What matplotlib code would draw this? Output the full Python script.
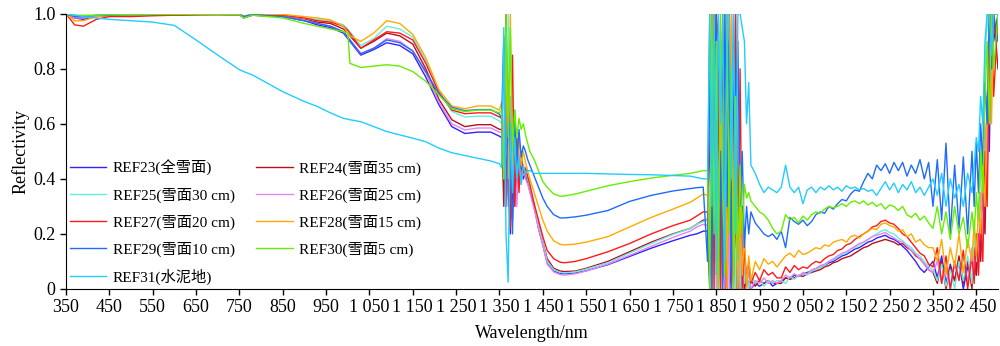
import numpy as np
import matplotlib.pyplot as plt

# wavelength grid (nm), denser where the spectra are noisy
wl = (
    [350, 370, 390, 420, 450, 500, 550, 600, 650, 700, 750, 760, 780, 850, 900,
     930, 960, 990, 1000, 1005, 1030, 1060, 1090, 1120, 1150, 1180, 1210, 1240,
     1270, 1300, 1330, 1350]
    + [1355, 1360, 1365, 1370, 1375, 1380, 1385, 1390, 1395, 1400, 1405, 1410,
       1415, 1420, 1430, 1440, 1450]
    + [1460, 1475, 1490, 1500, 1525, 1550, 1600, 1650, 1700, 1750, 1790, 1805, 1820]
    + [1830, 1835, 1840, 1845, 1850, 1855, 1860, 1865, 1870, 1875, 1880, 1885,
       1890, 1895, 1900, 1905, 1910, 1915, 1920, 1925, 1930, 1940, 1950, 1960,
       1970, 1980, 1990]
    + list(range(2000, 2350, 10))
    + [2350, 2360, 2370, 2380, 2390, 2400, 2410, 2420, 2430, 2440, 2445, 2450,
       2455, 2460, 2465, 2470, 2475, 2480, 2485, 2490, 2500]
)

ref23 = (
    [1.0, 0.985, 0.98, 0.99, 0.995, 0.995, 0.995, 0.997, 0.998, 0.998, 0.997, 0.985,
     0.995, 0.99, 0.975, 0.96, 0.95, 0.93, 0.91, 0.90, 0.85, 0.87, 0.895, 0.885,
     0.855, 0.77, 0.67, 0.59, 0.565, 0.57, 0.57, 0.555]
    + [0.55, 0.5, 0.35, 0.8, 0.2, 0.55, 0.3, 0.5, 0.42, 0.45, 0.4, 0.42, 0.4, 0.37,
       0.3, 0.22, 0.16]
    + [0.095, 0.065, 0.056, 0.055, 0.058, 0.066, 0.088, 0.118, 0.148, 0.175, 0.195,
       0.2, 0.21]
    + [0.21, 0.0, 0.7, 0.3, 1.0, 0.0, 0.9, 0.1, 0.0, 0.8, 0.4, 0.0, 0.7, 0.0, 0.5,
       0.1, 0.3, 0.0, 0.04, 0.02, 0.0, 0.02, 0.01, 0.02, 0.03, 0.01, 0.02]
    + [0.03, 0.04, 0.035, 0.05, 0.045, 0.055, 0.06, 0.065, 0.07, 0.08, 0.085, 0.095,
       0.1, 0.11, 0.12, 0.125, 0.135, 0.145, 0.15, 0.16, 0.17, 0.175, 0.185, 0.19,
       0.195, 0.185, 0.18, 0.17, 0.155, 0.14, 0.12, 0.1, 0.075, 0.06, 0.08]
    + [0.1, 0.04, 0.12, 0.02, 0.09, 0.03, 0.1, 0.0, 0.08, 0.03, 0.12, 0.05, 0.2,
       0.15, 0.4, 0.25, 0.7, 0.5, 1.0, 0.9, 1.0]
)

ref24 = (
    [1.0, 0.985, 0.985, 0.99, 0.995, 0.995, 0.995, 0.997, 0.998, 0.998, 0.997, 0.99,
     0.995, 0.992, 0.98, 0.97, 0.965, 0.945, 0.93, 0.92, 0.875, 0.90, 0.93, 0.92,
     0.89, 0.80, 0.69, 0.615, 0.59, 0.597, 0.597, 0.58]
    + [0.58, 0.3, 0.9, 0.45, 0.6, 0.25, 0.5, 0.35, 0.48, 0.4, 0.44, 0.41, 0.39, 0.36,
       0.3, 0.23, 0.17]
    + [0.11, 0.075, 0.065, 0.063, 0.065, 0.075, 0.1, 0.135, 0.17, 0.2, 0.22, 0.235,
       0.25]
    + [0.25, 0.6, 0.0, 1.0, 0.1, 0.7, 0.0, 0.9, 0.0, 1.0, 0.1, 0.0, 0.9, 0.0, 0.6,
       0.0, 0.1, 0.0, 0.05, 0.0, 0.03, 0.01, 0.03, 0.02, 0.03, 0.02, 0.02]
    + [0.02, 0.04, 0.035, 0.04, 0.05, 0.045, 0.055, 0.06, 0.065, 0.07, 0.08, 0.085,
       0.095, 0.1, 0.11, 0.115, 0.12, 0.13, 0.14, 0.15, 0.155, 0.165, 0.17, 0.175,
       0.18, 0.175, 0.17, 0.16, 0.165, 0.15, 0.14, 0.12, 0.11, 0.09, 0.07]
    + [0.06, 0.02, 0.1, 0.0, 0.08, 0.03, 0.12, 0.02, 0.1, 0.0, 0.15, 0.05, 0.2, 0.1,
       0.3, 0.2, 0.6, 0.9, 1.0, 1.0, 0.8]
)

ref25 = (
    [1.0, 0.99, 0.99, 0.995, 0.997, 0.997, 0.997, 0.998, 0.998, 0.998, 0.998, 0.993,
     0.998, 0.995, 0.985, 0.98, 0.975, 0.96, 0.945, 0.935, 0.885, 0.91, 0.955, 0.945,
     0.915, 0.83, 0.72, 0.645, 0.625, 0.628, 0.628, 0.61]
    + [0.6, 0.75, 0.3, 1.0, 0.4, 0.6, 0.35, 0.55, 0.4, 0.47, 0.42, 0.43, 0.4, 0.37,
       0.31, 0.23, 0.17]
    + [0.1, 0.07, 0.06, 0.058, 0.062, 0.072, 0.095, 0.13, 0.165, 0.198, 0.22, 0.235,
       0.245]
    + [0.25, 1.0, 0.5, 0.0, 1.0, 0.2, 0.8, 0.0, 0.5, 1.0, 0.0, 0.9, 0.3, 0.0, 0.7,
       0.0, 0.25, 0.02, 0.08, 0.0, 0.05, 0.02, 0.04, 0.01, 0.03, 0.02, 0.03]
    + [0.03, 0.02, 0.045, 0.035, 0.05, 0.055, 0.05, 0.065, 0.07, 0.08, 0.085, 0.1,
       0.105, 0.115, 0.125, 0.13, 0.145, 0.15, 0.16, 0.17, 0.18, 0.19, 0.2, 0.21,
       0.215, 0.205, 0.2, 0.185, 0.175, 0.16, 0.15, 0.13, 0.12, 0.1, 0.08]
    + [0.07, 0.03, 0.09, 0.01, 0.07, 0.0, 0.1, 0.03, 0.12, 0.02, 0.2, 0.1, 0.3, 0.4,
       0.6, 0.8, 1.0, 0.9, 1.0, 1.0, 1.0]
)

ref26 = (
    [1.0, 0.985, 0.985, 0.99, 0.995, 0.995, 0.995, 0.997, 0.998, 0.998, 0.997, 0.988,
     0.995, 0.99, 0.978, 0.965, 0.955, 0.935, 0.915, 0.905, 0.855, 0.875, 0.91, 0.90,
     0.865, 0.785, 0.68, 0.60, 0.578, 0.585, 0.585, 0.57]
    + [0.57, 0.4, 1.0, 0.3, 0.7, 0.4, 0.55, 0.3, 0.5, 0.38, 0.45, 0.4, 0.38, 0.35,
       0.29, 0.22, 0.16]
    + [0.09, 0.062, 0.052, 0.05, 0.055, 0.065, 0.09, 0.122, 0.155, 0.187, 0.21,
       0.225, 0.235]
    + [0.23, 0.8, 0.1, 0.9, 0.0, 1.0, 0.3, 0.7, 0.0, 0.6, 0.0, 1.0, 0.2, 0.5, 0.0,
       0.2, 0.0, 0.1, 0.02, 0.06, 0.0, 0.03, 0.02, 0.04, 0.02, 0.03, 0.02]
    + [0.03, 0.05, 0.04, 0.055, 0.045, 0.06, 0.055, 0.07, 0.075, 0.085, 0.09, 0.1,
       0.11, 0.12, 0.13, 0.135, 0.145, 0.155, 0.165, 0.17, 0.18, 0.19, 0.195, 0.2,
       0.205, 0.195, 0.185, 0.175, 0.17, 0.155, 0.14, 0.125, 0.11, 0.09, 0.07]
    + [0.06, 0.1, 0.02, 0.08, 0.0, 0.09, 0.04, 0.12, 0.02, 0.15, 0.05, 0.2, 0.1,
       0.35, 0.2, 0.6, 0.4, 1.0, 0.7, 1.0, 1.0]
)

ref27 = (
    [1.0, 0.96, 0.955, 0.98, 0.99, 0.99, 0.993, 0.995, 0.996, 0.997, 0.997, 0.99,
     0.996, 0.995, 0.985, 0.975, 0.97, 0.955, 0.94, 0.93, 0.875, 0.905, 0.935, 0.93,
     0.905, 0.82, 0.715, 0.65, 0.637, 0.64, 0.64, 0.625]
    + [0.62, 0.45, 1.0, 0.35, 0.22, 0.85, 0.3, 0.55, 0.35, 0.5, 0.42, 0.44, 0.41,
       0.38, 0.31, 0.25, 0.19]
    + [0.14, 0.11, 0.097, 0.095, 0.1, 0.11, 0.135, 0.165, 0.2, 0.23, 0.25, 0.265,
       0.28]
    + [0.28, 0.05, 1.0, 0.0, 1.0, 0.9, 0.0, 1.0, 0.2, 0.0, 1.0, 0.3, 0.0, 1.0, 0.0,
       0.8, 0.0, 0.15, 0.03, 0.1, 0.02, 0.06, 0.03, 0.07, 0.05, 0.06, 0.04]
    + [0.04, 0.08, 0.06, 0.085, 0.07, 0.08, 0.075, 0.09, 0.1, 0.095, 0.11, 0.12,
       0.125, 0.14, 0.145, 0.16, 0.165, 0.18, 0.19, 0.2, 0.21, 0.225, 0.23, 0.245,
       0.25, 0.24, 0.235, 0.22, 0.2, 0.19, 0.17, 0.15, 0.13, 0.12, 0.09]
    + [0.08, 0.15, 0.02, 0.12, 0.0, 0.1, 0.03, 0.14, 0.0, 0.12, 0.02, 0.2, 0.05,
       0.25, 0.1, 0.5, 0.3, 0.8, 1.0, 0.7, 1.0]
)

ref28 = (
    [1.0, 0.975, 0.975, 0.99, 0.995, 0.997, 0.998, 0.998, 0.999, 0.999, 0.999, 0.99,
     0.999, 0.998, 0.99, 0.985, 0.978, 0.955, 0.93, 0.92, 0.90, 0.93, 0.975, 0.965,
     0.925, 0.84, 0.725, 0.665, 0.655, 0.665, 0.665, 0.65]
    + [0.68, 0.5, 0.85, 0.4, 1.0, 0.45, 0.6, 0.42, 0.55, 0.45, 0.5, 0.46, 0.43, 0.4,
       0.35, 0.3, 0.25]
    + [0.21, 0.175, 0.162, 0.16, 0.163, 0.17, 0.19, 0.225, 0.26, 0.29, 0.315, 0.33,
       0.345]
    + [0.34, 1.0, 0.0, 1.0, 0.3, 0.0, 0.9, 0.1, 1.0, 0.0, 0.6, 1.0, 0.05, 0.4, 0.0,
       0.3, 0.05, 0.2, 0.0, 0.12, 0.03, 0.1, 0.07, 0.11, 0.09, 0.1, 0.08]
    + [0.1, 0.12, 0.13, 0.115, 0.14, 0.125, 0.13, 0.14, 0.15, 0.145, 0.16, 0.155,
       0.17, 0.175, 0.18, 0.17, 0.19, 0.195, 0.185, 0.2, 0.21, 0.22, 0.215, 0.235,
       0.24, 0.23, 0.225, 0.21, 0.215, 0.19, 0.2, 0.17, 0.18, 0.16, 0.15]
    + [0.15, 0.1, 0.18, 0.05, 0.15, 0.08, 0.2, 0.06, 0.18, 0.1, 0.25, 0.12, 0.3, 0.2,
       0.45, 0.3, 0.7, 1.0, 0.6, 1.0, 1.0]
)

ref29 = (
    [1.0, 0.99, 0.99, 0.995, 0.995, 0.997, 0.997, 0.998, 0.998, 0.998, 0.998, 0.99,
     0.997, 0.99, 0.975, 0.965, 0.955, 0.935, 0.915, 0.905, 0.855, 0.875, 0.905,
     0.895, 0.865, 0.79, 0.71, 0.66, 0.648, 0.652, 0.652, 0.635]
    + [0.62, 0.92, 0.3, 0.7, 0.45, 0.2, 0.65, 0.45, 0.58, 0.48, 0.52, 0.5, 0.47,
       0.45, 0.41, 0.37, 0.33]
    + [0.30, 0.27, 0.258, 0.258, 0.262, 0.268, 0.285, 0.318, 0.34, 0.356, 0.365,
       0.368, 0.37]
    + [0.1, 0.9, 0.0, 0.7, 1.0, 0.1, 0.5, 0.0, 1.0, 0.3, 0.9, 0.0, 1.0, 0.6, 0.9,
       0.3, 0.5, 0.15, 0.3, 0.2, 0.28, 0.24, 0.22, 0.2, 0.19, 0.2, 0.18]
    + [0.21, 0.15, 0.26, 0.245, 0.235, 0.25, 0.23, 0.245, 0.27, 0.28, 0.275, 0.3,
       0.29, 0.31, 0.325, 0.32, 0.345, 0.36, 0.355, 0.39, 0.42, 0.4, 0.45, 0.43,
       0.455, 0.42, 0.46, 0.43, 0.46, 0.41, 0.45, 0.42, 0.47, 0.4, 0.46]
    + [0.3, 0.47, 0.25, 0.53, 0.2, 0.45, 0.22, 0.48, 0.2, 0.5, 0.3, 0.53, 0.35, 0.6,
       0.45, 0.75, 0.6, 1.0, 0.8, 1.0, 0.9]
)

ref30 = (
    [1.0, 0.995, 0.995, 0.995, 0.997, 0.997, 0.998, 0.998, 0.998, 0.998, 0.997,
     0.985, 0.995, 0.985, 0.965, 0.955, 0.945, 0.935, 0.93, 0.82, 0.805, 0.81, 0.815,
     0.81, 0.79, 0.755, 0.705, 0.655, 0.645, 0.65, 0.65, 0.64]
    + [0.65, 0.4, 1.0, 0.55, 0.95, 0.5, 0.65, 0.55, 0.62, 0.58, 0.6, 0.56, 0.53,
       0.5, 0.47, 0.43, 0.39]
    + [0.37, 0.345, 0.337, 0.338, 0.345, 0.355, 0.375, 0.39, 0.403, 0.413, 0.42,
       0.425, 0.43]
    + [0.43, 0.0, 1.0, 0.2, 0.9, 0.0, 1.0, 0.4, 0.05, 1.0, 0.2, 0.8, 0.0, 0.7, 0.1,
       0.45, 0.2, 0.38, 0.33, 0.35, 0.32, 0.3, 0.28, 0.27, 0.25, 0.22, 0.2]
    + [0.21, 0.27, 0.25, 0.26, 0.24, 0.265, 0.25, 0.27, 0.28, 0.275, 0.29, 0.3,
       0.295, 0.3, 0.31, 0.3, 0.315, 0.32, 0.31, 0.32, 0.305, 0.315, 0.3, 0.31, 0.29,
       0.305, 0.3, 0.285, 0.3, 0.27, 0.26, 0.275, 0.25, 0.265, 0.24]
    + [0.22, 0.3, 0.2, 0.28, 0.18, 0.3, 0.2, 0.26, 0.15, 0.28, 0.2, 0.35, 0.25, 0.5,
       0.35, 0.7, 0.9, 0.6, 1.0, 0.8, 1.0]
)

ref31 = (
    [1.0, 0.995, 0.99, 0.985, 0.98, 0.975, 0.97, 0.958, 0.905, 0.85, 0.797, 0.79,
     0.778, 0.717, 0.681, 0.663, 0.64, 0.62, 0.617, 0.615, 0.608, 0.59, 0.572, 0.56,
     0.548, 0.535, 0.512, 0.495, 0.485, 0.475, 0.465, 0.455]
    + [0.44, 0.95, 0.2, 0.025, 0.6, 0.35, 0.55, 0.4, 0.48, 0.38, 0.45, 0.42, 0.43,
       0.43, 0.42, 0.42, 0.42]
    + [0.42, 0.42, 0.42, 0.42, 0.42, 0.42, 0.418, 0.416, 0.415, 0.412, 0.41, 0.405,
       0.40]
    + [0.4, 1.0, 0.3, 1.0, 0.05, 1.0, 0.6, 1.0, 0.1, 1.0, 1.0, 0.4, 1.0, 0.2, 1.0,
       1.0, 0.95, 0.9, 0.6, 0.75, 0.45, 0.42, 0.38, 0.35, 0.37, 0.36, 0.35]
    + [0.37, 0.45, 0.37, 0.35, 0.37, 0.31, 0.36, 0.37, 0.35, 0.37, 0.36, 0.375, 0.36,
       0.37, 0.355, 0.375, 0.365, 0.37, 0.36, 0.365, 0.355, 0.36, 0.34, 0.365, 0.39,
       0.36, 0.385, 0.35, 0.38, 0.36, 0.39, 0.35, 0.37, 0.34, 0.37]
    + [0.4, 0.34, 0.42, 0.3, 0.4, 0.33, 0.38, 0.3, 0.42, 0.35, 0.45, 0.55, 0.5, 0.7,
       0.6, 0.9, 1.0, 1.0, 0.85, 1.0, 1.0]
)

labels = ["REF23(全雪面)", "REF24(雪面35 cm)", "REF25(雪面30 cm)",
          "REF26(雪面25 cm)", "REF27(雪面20 cm)", "REF28(雪面15 cm)",
          "REF29(雪面10 cm)", "REF30(雪面5 cm)", "REF31(水泥地)"]
series = [ref23, ref24, ref25, ref26, ref27, ref28, ref29, ref30, ref31]
colors = ["#3322ff", "#b8101c", "#66eedd", "#e285f0", "#ff1a1a",
          "#ffaa00", "#1f6bff", "#66ee00", "#22ccff"]

xticks = list(range(350, 2451, 100))
xtick_labels = [str(v) if v < 1000 else f"{v // 1000} {v % 1000:03d}" for v in xticks]
yticks = [0, 0.2, 0.4, 0.6, 0.8, 1.0]
ytick_labels = ["0", "0.2", "0.4", "0.6", "0.8", "1.0"]

plt.rcParams["font.family"] = ["Liberation Serif", "Noto Sans CJK SC"]

fig = plt.figure(figsize=(10, 3.46), dpi=100)
ax = fig.add_axes([0.066, 0.165, 0.932, 0.795])

lines = []
for y, c, lab in zip(series, colors, labels):
    ln, = ax.plot(wl, y, color=c, lw=1.0, label=lab)
    lines.append(ln)

ax.set_xlim(350, 2500)
ax.set_ylim(0, 1.0)
ax.set_xticks(xticks)
ax.set_xticklabels(xtick_labels)
ax.set_yticks(yticks)
ax.set_yticklabels(ytick_labels)
ax.tick_params(labelsize=13, direction="out", length=4, width=1, colors="black")
ax.spines["top"].set_visible(False)
ax.spines["right"].set_visible(False)
ax.set_xlabel("Wavelength/nm", fontsize=13, labelpad=6)
ax.set_ylabel("Reflectivity", fontsize=13, labelpad=3)

# legend is filled column-wise, so order the handles to read row by row
order = [0, 2, 4, 6, 8, 1, 3, 5, 7]
ax.legend([lines[i] for i in order], [labels[i] for i in order],
          ncol=2, frameon=False, loc="upper left", bbox_to_anchor=(0.004, 0.47),
          fontsize=11, handlelength=2.4, handletextpad=0.4, labelspacing=0.78,
          columnspacing=1.4, borderpad=0, borderaxespad=0)

fig.savefig("out.png", dpi=100)
